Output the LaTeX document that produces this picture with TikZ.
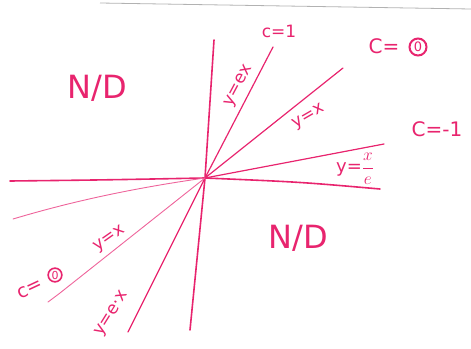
\documentclass[tikz,border=0pt]{standalone}
\usepackage{fontspec}
\setmainfont{DejaVu Sans}
\definecolor{ink}{RGB}{232,36,110}
\definecolor{inklight}{RGB}{238,100,155}
\begin{document}
\begin{tikzpicture}[x=1pt,y=-1pt,
  axis/.style={draw=ink, line width=1.6pt, line cap=round},
  curve/.style={draw=ink, line width=1.2pt, line cap=round},
  thin/.style={draw=inklight, line width=0.9pt, line cap=round},
  lbl/.style={text=ink, font=\fontsize{17}{17}\selectfont, inner sep=0pt},
  big/.style={text=ink, font=\fontsize{32}{32}\selectfont, inner sep=0pt}]
\useasboundingbox (0,0) rectangle (471,348);
\draw[gray!60, line width=0.8pt] (100,3) -- (471,9);
% origin and line ends
\coordinate (O) at (205,178);
\coordinate (hL) at (10,181);
\coordinate (hR) at (380,189);
\coordinate (vT) at (214,40);
\coordinate (vB) at (190,330);
\coordinate (eU) at (273,47);
\coordinate (eD) at (128,332);
\coordinate (xU) at (343,68);
\coordinate (xD) at (48,302);
\coordinate (dU) at (384,144);
\coordinate (dD) at (13,219);
% axes
\draw[axis] (hL) .. controls (100,180) .. (O) .. controls (300,182) .. (hR);
\draw[axis] (vT) -- (O) -- (vB);
% lines
\draw[curve] (O) -- (eU);
\draw[curve] (O) -- (eD);
\draw[curve] (O) -- (xU);
\draw[thin] (O) -- (60,293) .. controls (52,299) .. (xD);
\draw[curve] (O) .. controls (300,160) .. (dU);
\draw[thin] (O) .. controls (120,190) and (60,205) .. (dD);
% labels
\node[lbl] (c1) at (279,31) {c=1};
\node[lbl, font=\fontsize{20}{20}\selectfont] (c0) at (384,46) {C=};
\node[draw=ink, line width=2pt, circle, inner sep=1.5pt, text=ink, font=\fontsize{13}{13}\selectfont] (c0z) at (418,47) {0};
\node[lbl, font=\fontsize{20}{20}\selectfont] (cm1) at (437,129) {C=-1};
\node[lbl, rotate=62] (ye) at (239,86) {y=ex};
\node[lbl, rotate=30] (yx) at (309,117) {y=x};
\node[lbl, font=\fontsize{18}{18}\selectfont] (yxe) at (355,169) {y=$\displaystyle\frac{x}{e}$};
\node[big] (nd1) at (97,88) {N/D};
\node[big] (nd2) at (298,238) {N/D};
\node[lbl, rotate=35] (yx2) at (110,239) {y=x};
\node[lbl, rotate=25, font=\fontsize{19}{19}\selectfont] (cz2) at (30,289) {c=};
\node[draw=ink, line width=1.6pt, circle, inner sep=1pt, text=ink, font=\fontsize{11}{11}\selectfont] (cz2z) at (55,275) {0};
\node[lbl, rotate=58] (yex) at (112,314) {y=e·x};
\end{tikzpicture}
\end{document}
